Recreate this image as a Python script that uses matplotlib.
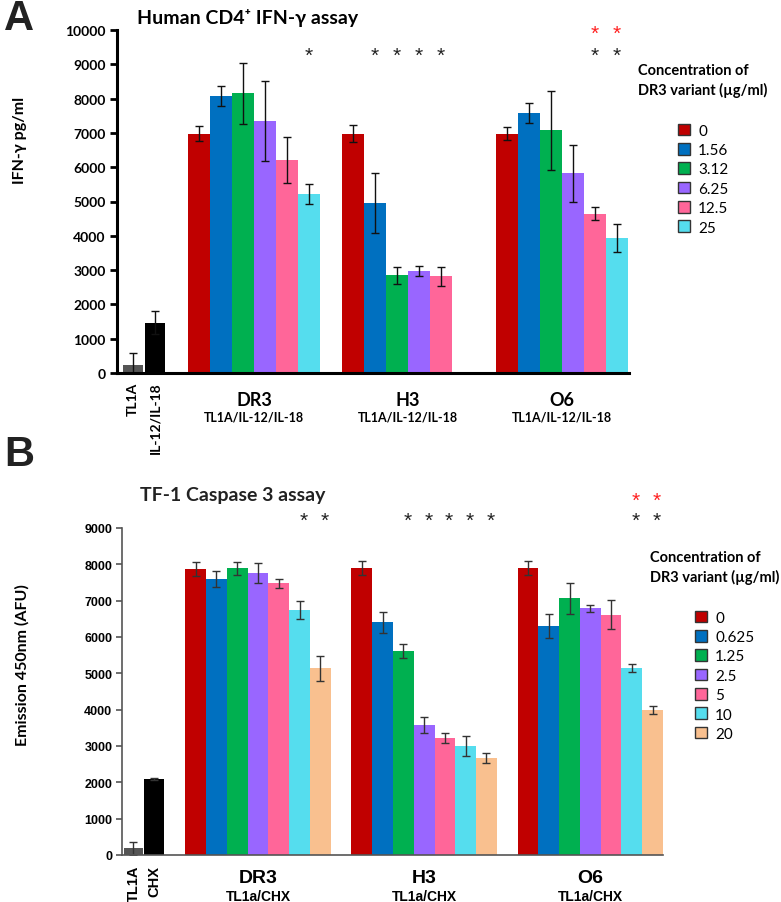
import numpy as np
import matplotlib.pyplot as plt
from matplotlib.patches import Patch

plt.rcParams['font.family'] = ['Lato', 'DejaVu Sans']
ARIAL = ['Liberation Sans', 'DejaVu Sans']

colors = ['#C00000', '#0070C0', '#00B050', '#9966FF', '#FF6699', '#55DDEE', '#F9C08F']
ctrl_colors = ['#555555', '#000000']

# ---- panel A : Human CD4+ IFN-gamma assay
ctrl_a = ['TL1A', 'IL-12/IL-18']
ctrl_a_val = [223, 1466]
ctrl_a_err = [360, 340]
groups_a = ['DR3', 'H3', 'O6']
sub_a = 'TL1A/IL-12/IL-18'
conc_a = ['0', '1.56', '3.12', '6.25', '12.5', '25']
vals_a = [[6980, 8080, 8160, 7340, 6210, 5220],
          [6980, 4950, 2845, 2970, 2815, np.nan],
          [6980, 7570, 7070, 5825, 4650, 3940]]
errs_a = [[230, 300, 890, 1165, 660, 280],
          [250, 870, 240, 135, 270, 0],
          [180, 290, 1165, 835, 185, 400]]
stars_a = [[5], [1, 2, 3, 4], [4, 5]]
red_stars_a = [[], [], [4, 5]]

# ---- panel B : TF-1 Caspase 3 assay
ctrl_b = ['TL1A', 'CHX']
ctrl_b_val = [183, 2092]
ctrl_b_err = [180, 30]
groups_b = ['DR3', 'H3', 'O6']
sub_b = 'TL1a/CHX'
conc_b = ['0', '0.625', '1.25', '2.5', '5', '10', '20']
vals_b = [[7880, 7600, 7890, 7750, 7480, 6735, 5140],
          [7890, 6400, 5625, 3580, 3210, 3000, 2670],
          [7890, 6300, 7065, 6790, 6615, 5150, 3990]]
errs_b = [[190, 230, 180, 275, 130, 250, 350],
          [190, 300, 190, 210, 140, 270, 150],
          [190, 320, 420, 100, 395, 100, 100]]
stars_b = [[5, 6], [2, 3, 4, 5, 6], [5, 6]]
red_stars_b = [[], [], [5, 6]]

W, H = 781, 903
fig = plt.figure(figsize=(W / 100, H / 100), dpi=100)


def px_axes(l, t, r, b):
    return fig.add_axes([l / W, 1 - b / H, (r - l) / W, (b - t) / H])


def draw_panel(ax, ctrl, cval, cerr, groups, vals, errs, stars, reds, n, ctrl_w,
               ecol, star_y, red_y, star_dx):
    ax.bar([0.5, 1.5], cval, width=ctrl_w, color=ctrl_colors)
    ax.errorbar([0.5, 1.5], cval, yerr=cerr, fmt='none', ecolor=ecol,
                elinewidth=1, capsize=3, capthick=1)
    centers = []
    for g in range(len(groups)):
        start = 3 + g * (n + 1)
        xs = np.array([start + i + 0.5 for i in range(n)])
        v = np.array(vals[g], dtype=float)
        e = np.array(errs[g], dtype=float)
        ok = ~np.isnan(v)
        ax.bar(xs[ok], v[ok], width=1.0, color=np.array(colors[:n])[ok])
        ax.errorbar(xs[ok], v[ok], yerr=e[ok], fmt='none', ecolor=ecol,
                    elinewidth=1, capsize=3, capthick=1)
        for i in stars[g]:
            ax.text(xs[i] + star_dx, star_y, '*', ha='center', va='center',
                    fontsize=15, color='#222222', family=ARIAL, clip_on=False)
        for i in reds[g]:
            ax.text(xs[i] + star_dx, red_y, '*', ha='center', va='center',
                    fontsize=15, color='#FF2020', family=ARIAL, clip_on=False)
        centers.append(start + n / 2)
    return centers


# ================= panel A
axA = px_axes(117, 31, 629, 374)
cA = draw_panel(axA, ctrl_a, ctrl_a_val, ctrl_a_err, groups_a, vals_a, errs_a,
                stars_a, red_stars_a, 6, 0.9, '#111111', 9270, 9910, 0.0)
axA.set_xlim(-0.23, 23.05)
axA.set_ylim(0, 10000)
axA.set_yticks(np.arange(0, 10001, 1000))
axA.set_xticks([])
for s in ['top', 'right']:
    axA.spines[s].set_visible(False)
for s in ['left', 'bottom']:
    axA.spines[s].set_linewidth(2.2)
    axA.spines[s].set_color('black')
axA.tick_params(axis='y', length=5, width=2, labelsize=10, pad=3)
for t in axA.get_yticklabels():
    t.set_fontweight('bold')
for x, lab in zip([0.5, 1.5], ctrl_a):
    axA.annotate(lab, xy=(x, 0), xycoords=('data', 'axes fraction'),
                 xytext=(0, -6), textcoords='offset points', rotation=90,
                 ha='center', va='top', fontsize=10, fontweight='bold')
for x, lab in zip(cA, groups_a):
    axA.annotate(lab, xy=(x, 0), xycoords=('data', 'axes fraction'),
                 xytext=(0, -19), textcoords='offset points',
                 ha='center', va='center', fontsize=13, fontweight='bold')
    axA.annotate(sub_a, xy=(x, 0), xycoords=('data', 'axes fraction'),
                 xytext=(0, -31), textcoords='offset points',
                 ha='center', va='center', fontsize=9, fontweight='bold')
fig.text(137 / W, 1 - 18 / H, 'Human CD4\u207A IFN-\u03B3 assay', ha='left', va='center',
         fontsize=14, fontweight='bold')
fig.text(20 / W, 1 - 140 / H, 'IFN-\u03B3 pg/ml', rotation=90, ha='center', va='center',
         fontsize=11.5, fontweight='bold')
fig.text(4 / W, 1 - 19 / H, 'A', ha='left', va='center', fontsize=30, fontweight='bold',
         family=ARIAL, color='#222222')
fig.text(638 / W, 1 - 81 / H, 'Concentration of\nDR3 variant (\u00B5g/ml)', ha='left',
         va='center', fontsize=10.5, fontweight='bold', linespacing=1.45)
hA = [Patch(facecolor=c, edgecolor='#333333', linewidth=1) for c in colors[:6]]
fig.legend(hA, conc_a, loc='upper left', bbox_to_anchor=(670 / W, 1 - 117 / H),
           frameon=False, borderpad=0, handlelength=0.8, handleheight=0.8,
           handletextpad=0.55, labelspacing=0.34, fontsize=11)

# ================= panel B
axB = px_axes(122, 529, 663, 856)
cB = draw_panel(axB, ctrl_b, ctrl_b_val, ctrl_b_err, groups_b, vals_b, errs_b,
                stars_b, red_stars_b, 7, 0.95, '#333333', 9220, 9770, 0.2)
axB.set_xlim(-0.05, 26.0)
axB.set_ylim(0, 9000)
axB.set_yticks(np.arange(0, 9001, 1000))
axB.set_xticks([])
for s in ['top', 'right']:
    axB.spines[s].set_visible(False)
for s in ['left', 'bottom']:
    axB.spines[s].set_linewidth(1.2)
    axB.spines[s].set_color('#555555')
axB.tick_params(axis='y', length=4, width=1.2, color='#555555', labelsize=9, pad=3)
for t in axB.get_yticklabels():
    t.set_fontweight('bold')
    t.set_family(ARIAL)
for x, lab in zip([0.5, 1.5], ctrl_b):
    axB.annotate(lab, xy=(x, 0), xycoords=('data', 'axes fraction'),
                 xytext=(0, -7), textcoords='offset points', rotation=90,
                 ha='center', va='top', fontsize=10.5, fontweight='bold', family=ARIAL)
for x, lab in zip(cB, groups_b):
    axB.annotate(lab, xy=(x, 0), xycoords=('data', 'axes fraction'),
                 xytext=(0, -16), textcoords='offset points',
                 ha='center', va='center', fontsize=14, fontweight='bold', family=ARIAL)
    axB.annotate(sub_b, xy=(x, 0), xycoords=('data', 'axes fraction'),
                 xytext=(0, -29.5), textcoords='offset points',
                 ha='center', va='center', fontsize=10, fontweight='bold', family=ARIAL)
fig.text(233 / W, 1 - 495 / H, 'TF-1 Caspase 3 assay', ha='center', va='center',
         fontsize=14, fontweight='bold', color='#222222')
fig.text(22 / W, 1 - 665 / H, 'Emission 450nm (AFU)', rotation=90, ha='center',
         va='center', fontsize=11.5, fontweight='bold')
fig.text(4 / W, 1 - 455 / H, 'B', ha='left', va='center', fontsize=30, fontweight='bold',
         family=ARIAL, color='#222222')
fig.text(650 / W, 1 - 568 / H, 'Concentration of\nDR3 variant (\u00B5g/ml)', ha='left',
         va='center', fontsize=10.5, fontweight='bold', linespacing=1.45)
hB = [Patch(facecolor=c, edgecolor='#333333', linewidth=1) for c in colors[:7]]
fig.legend(hB, conc_b, loc='upper left', bbox_to_anchor=(687 / W, 1 - 604 / H),
           frameon=False, borderpad=0, handlelength=0.8, handleheight=0.8,
           handletextpad=0.55, labelspacing=0.34, fontsize=11)

fig.savefig('out.png', dpi=100)
